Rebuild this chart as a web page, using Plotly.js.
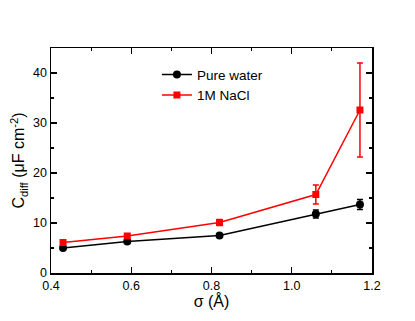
<!DOCTYPE html>
<html>
<head>
<meta charset="utf-8">
<script src="https://cdn.plot.ly/plotly-3.0.1.min.js"></script>
<style>
  html, body { margin: 0; padding: 0; background: #fff; }
  #chart { width: 415px; height: 321px; }
</style>
</head>
<body>
<div id="chart"></div>
<script>
// Data
const sigma = [0.43, 0.59, 0.82, 1.06, 1.17];
const waterC = [5.0, 6.3, 7.5, 11.8, 13.7];
const waterErr = [0.3, 0.3, 0.3, 0.8, 1.0];
const naclC = [6.1, 7.4, 10.1, 15.7, 32.6];
const naclErr = [0.3, 0.3, 0.6, 1.9, 9.4];

const waterTrace = {
    x: sigma,
    y: waterC,
    error_y: { type: 'data', array: waterErr, color: 'black', thickness: 1.5, width: 3 },
    mode: 'lines+markers',
    type: 'scatter',
    name: 'Pure water',
    line: { color: 'black', width: 1.5 },
    marker: { color: 'black', size: 8, symbol: 'circle' }
};

const naclTrace = {
    x: sigma,
    y: naclC,
    error_y: { type: 'data', array: naclErr, color: 'red', thickness: 1.5, width: 3 },
    mode: 'lines+markers',
    type: 'scatter',
    name: '1M NaCl',
    line: { color: 'red', width: 1.5 },
    marker: { color: 'red', size: 7, symbol: 'square' }
};

const axisCommon = {
    showgrid: false,
    zeroline: false,
    showline: true,
    linecolor: 'black',
    linewidth: 1.5,
    mirror: 'ticks',
    ticks: 'inside',
    ticklen: 6,
    tickwidth: 1.2,
    tickcolor: 'black',
    tickfont: { family: 'Liberation Sans, Arial, sans-serif', size: 12.5, color: 'black' }
};

const layout = {
    width: 415,
    height: 321,
    margin: { l: 51, r: 43, t: 48, b: 48 },
    paper_bgcolor: 'white',
    plot_bgcolor: 'white',
    font: { family: 'Liberation Sans, Arial, sans-serif', color: 'black' },
    xaxis: Object.assign({}, axisCommon, {
        range: [0.4, 1.2],
        dtick: 0.2,
        tick0: 0.4,
        tickformat: '.1f',
        minor: { dtick: 0.1, ticks: 'inside', ticklen: 3, tickcolor: 'black', tickwidth: 1.2 },
        title: { text: 'σ (Å)', font: { size: 16 }, standoff: 4 }
    }),
    yaxis: Object.assign({}, axisCommon, {
        range: [0, 45],
        dtick: 10,
        tick0: 0,
        minor: { dtick: 5, ticks: 'inside', ticklen: 3, tickcolor: 'black', tickwidth: 1.2 },
        title: { text: 'C<sub>diff</sub> (μF cm<sup>-2</sup>)', font: { size: 16 }, standoff: 4 }
    }),
    showlegend: true,
    legend: {
        x: 0.33,
        y: 0.95,
        xanchor: 'left',
        yanchor: 'top',
        bgcolor: 'rgba(0,0,0,0)',
        font: { size: 13.5 },
        tracegroupgap: 0,
        itemwidth: 30
    }
};

Plotly.newPlot('chart', [waterTrace, naclTrace], layout, { displayModeBar: false, staticPlot: true });
</script>
</body>
</html>
